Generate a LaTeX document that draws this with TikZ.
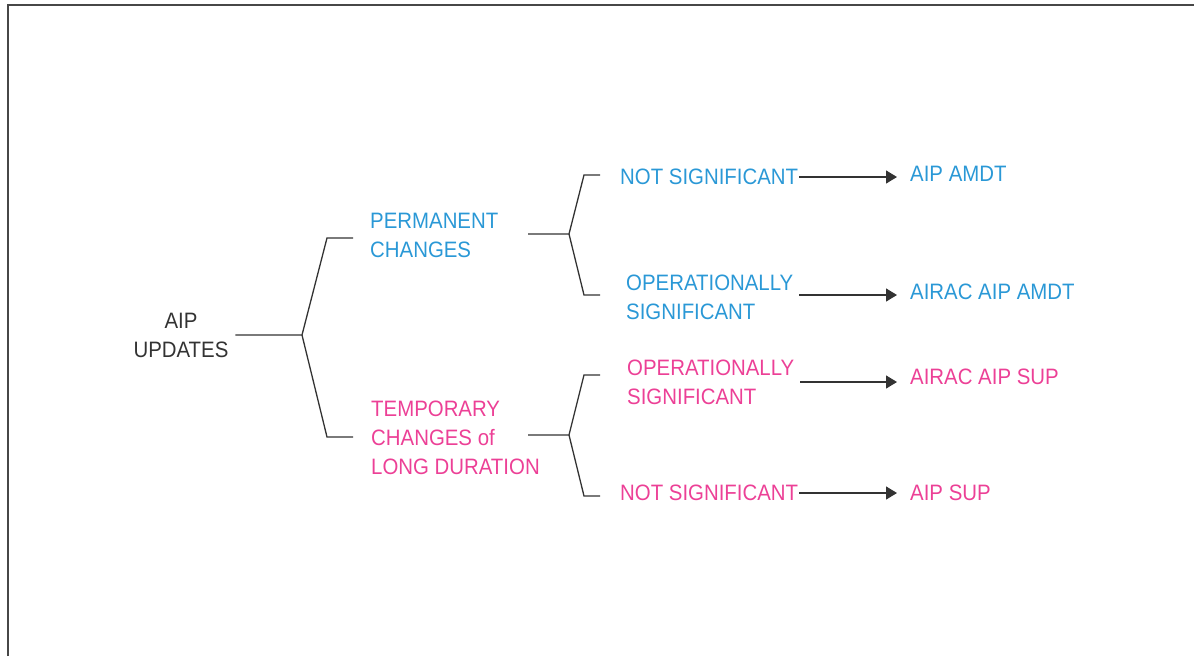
\documentclass[tikz,border=0pt]{standalone}
\usepackage{fontspec}
\setmainfont{Liberation Sans}[FakeStretch=0.915]
\usepackage{tikz}
\usetikzlibrary{arrows.meta}
\definecolor{aipblue}{RGB}{42,152,214}
\definecolor{aippink}{RGB}{236,64,150}
\definecolor{aipline}{RGB}{51,51,51}
\tikzset{
	lbl/.style={inner sep=0pt, anchor=west, align=left, font=\fontsize{22.3}{29}\selectfont},
	brk/.style={draw=aipline, line width=1.3pt},
	arr/.style={draw=aipline, line width=1.3pt, -{Triangle[length=11pt,width=13pt]}, shorten >=13pt}
}
\begin{document}
\begin{tikzpicture}[x=1pt, y=-1pt]
	
	\useasboundingbox (0,0) rectangle (1194,656);
	\draw[line width=2pt, draw=aipline!90] (8,656) -- (8,5) -- (1194,5);
	
	% texts
	\node[lbl, anchor=center, align=center, text=aipline, outer xsep=7pt] (root) at (181,335) {AIP\\UPDATES};
	\node[lbl, text=aipblue] (perm) at (370,235) {PERMANENT\\CHANGES};
	\node[lbl, text=aippink] (temp) at (371,438) {TEMPORARY\\CHANGES of\\LONG DURATION};
	\node[lbl, text=aipblue] (ns1) at (620,177) {NOT SIGNIFICANT};
	\node[lbl, text=aipblue] (op1) at (626,297) {OPERATIONALLY\\SIGNIFICANT};
	\node[lbl, text=aippink] (op2) at (627,382) {OPERATIONALLY\\SIGNIFICANT};
	\node[lbl, text=aippink] (ns2) at (620,493) {NOT SIGNIFICANT};
	\node[lbl, text=aipblue] (amdt) at (910,174) {AIP AMDT};
	\node[lbl, text=aipblue] (aamdt) at (910,292) {AIRAC AIP AMDT};
	\node[lbl, text=aippink] (asup) at (910,377) {AIRAC AIP SUP};
	\node[lbl, text=aippink] (sup) at (910,493) {AIP SUP};
	
	% brackets
	\coordinate (v1) at (302,335);
	\coordinate (t1) at (327,238);
	\coordinate (u1) at (327,437);
	\draw[brk] (root.east) -- (v1) -- (t1) -- ++(26,0);
	\draw[brk] (v1) -- (u1) -- ++(26,0);
	
	\coordinate (s2) at (528,234);
	\coordinate (v2) at (569,234);
	\draw[brk] (s2) -- (v2) -- (584,175) -- (600,175);
	\draw[brk] (v2) -- (584,295) -- (600,295);
	
	\coordinate (s3) at (528,435);
	\coordinate (v3) at (569,435);
	\draw[brk] (s3) -- (v3) -- (584,375) -- (600,375);
	\draw[brk] (v3) -- (584,496) -- (600,496);
	
	% arrows
	\draw[arr] ([xshift=1pt]ns1.east) -- (ns1.east -| amdt.west);
	\draw[arr] ([xshift=6pt,yshift=2pt]op1.east) -- ([yshift=2pt]op1.east -| aamdt.west);
	\draw[arr] ([xshift=6pt]op2.east) -- (op2.east -| asup.west);
	\draw[arr] ([xshift=1pt]ns2.east) -- (ns2.east -| sup.west);
	
\end{tikzpicture}
\end{document}
